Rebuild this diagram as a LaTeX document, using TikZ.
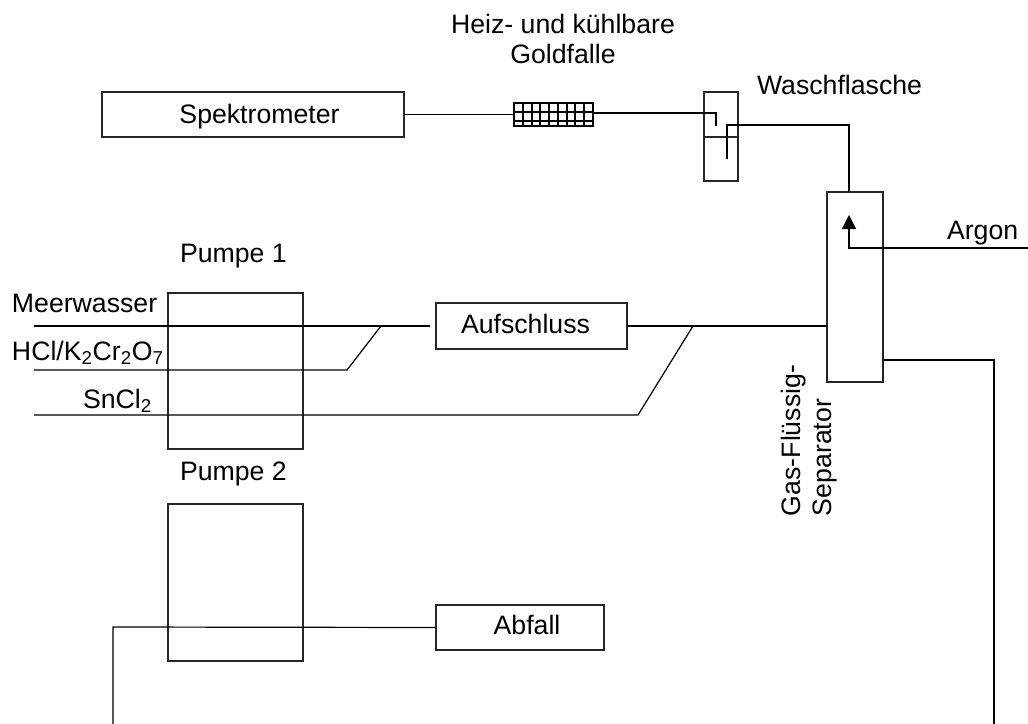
\documentclass[tikz,border=0pt]{standalone}
\usepackage{fontspec}
\setmainfont{Liberation Sans}
\usetikzlibrary{arrows.meta}
\tikzstyle{every node}=[font={\fontsize{20}{23}\selectfont}, inner sep=0pt, outer sep=0pt]
\tikzstyle{apparat}=[draw=black!85, line width=1pt]
\tikzstyle{leitung}=[draw=black, line width=0.9pt]
\tikzstyle{gitter}=[draw=black, line width=1.4pt]
\tikzstyle{beschriftung}=[anchor=base west]

\begin{document}
\begin{tikzpicture}[x=0.75pt, y=-0.75pt]
    \useasboundingbox (0,0) rectangle (1028,724);
    % geraete
    \node [apparat, minimum width=226.5pt, minimum height=33.75pt, text height=14pt, text depth=0pt] (spektrometer) at (253,114.5) {\hspace{9.75pt}Spektrometer};
    \node [gitter, minimum width=59.25pt, minimum height=17.25pt] (falle) at (553.5,114.5) {};
    \node [apparat, minimum width=25.5pt, minimum height=66.75pt] (flasche) at (721,136.5) {};
    \node [apparat, minimum width=42pt, minimum height=142.5pt] (separator) at (855,287) {};
    \node [apparat, minimum width=101.25pt, minimum height=117pt] (pumpeA) at (235.5,371) {};
    \node [apparat, minimum width=101.25pt, minimum height=117.75pt] (pumpeB) at (235.5,582.5) {};
    \node [apparat, minimum width=143.25pt, minimum height=34.5pt, text height=14.5pt, text depth=4pt] (aufschluss) at (531.5,326) {Aufschluss\kern9pt};
    \node [apparat, minimum width=126pt, minimum height=33.75pt, text height=14.5pt, text depth=4pt] (abfall) at (520,627.5) {\hspace{10.5pt}Abfall};
    % texte
    \node [anchor=south, align=center] (goldfalle) at (563,64) {Heiz- und k\"uhlbare\\Goldfalle};
    \node [beschriftung] (waschflasche) at (757,94) {Waschflasche};
    \node [beschriftung] (argon) at (947,239) {Argon};
    \node [beschriftung] (pumpe1) at (180,262) {Pumpe 1};
    \node [beschriftung] (pumpe2) at (180,480) {Pumpe 2};
    \node [beschriftung] (meerwasser) at (12,312) {Meerwasser};
    \node [beschriftung] (saeure) at (12,360) {HCl/K\textsubscript{2}Cr\textsubscript{2}O\textsubscript{7}};
    \node [beschriftung] (zinn) at (83,408) {SnCl\textsubscript{2}};
    \node [rotate=90, anchor=south west, align=left] (gastext) at (836.6,516) {Gas-Fl\"ussig-\\Separator};
    % freie enden
    \coordinate (mwein) at (34,326);
    \coordinate (mwknick) at (381,326);
    \coordinate (mwende) at (430,326);
    \coordinate (saeurein) at (34,370);
    \coordinate (saeureknick) at (347,370);
    \coordinate (zinnin) at (34,415);
    \coordinate (zinnknick) at (638,415);
    \coordinate (zinnend) at (693,326);
    \coordinate (argonin) at (1028,248);
    \coordinate (argonknick) at (849,248);
    \coordinate (argonend) at (849,215);
    \coordinate (abflussknick) at (994,360);
    \coordinate (abflussend) at (994,724);
    \coordinate (abfallend) at (113,724);
    \coordinate (abfallknick) at (113,627);
    \coordinate (rohrein) at (716,113);
    \coordinate (rohreinend) at (716,126);
    \coordinate (rohraus) at (727,159);
    \coordinate (rohrausknick) at (727,125);
    \coordinate (rohrausend) at (849,125);
    \coordinate (wasserL) at (704,137);
    \coordinate (wasserR) at (738,137);
    \coordinate (separatorR) at (883,360);
    \coordinate (falleR) at (593,113);
    % gitter der falle
    \foreach \x in {522.8,531.6,540.3,549.1,557.9,566.7,575.4,584.2} {
        \draw [gitter] (\x,103) -- (\x,126);
    }
    \foreach \y in {112.3,120.7} {
        \draw [gitter] (514,\y) -- (593,\y);
    }
    % leitungen
    \draw [leitung] (spektrometer.east) -- (falle.west);
    \draw [leitung] (falleR) -- (rohrein) -- (rohreinend);
    \draw [apparat] (wasserL) -- (wasserR);
    \draw [leitung] (rohraus) -- (rohrausknick) -- (rohrausend) -- (rohrausend |- separator.north);
    \draw [leitung, -{Triangle[length=10.5pt, width=10.5pt]}] (argonin) -- (argonknick) -- (argonend);
    \draw [leitung] (mwein) -- (mwende);
    \draw [leitung] (saeurein) -- (saeureknick) -- (mwknick);
    \draw [leitung] (zinnin) -- (zinnknick) -- (zinnend);
    \draw [leitung] (aufschluss.east) -- (separator.west |- aufschluss.east);
    \draw [leitung] (separatorR) -- (abflussknick) -- (abflussend);
    \draw [leitung] (abfallend) -- (abfallknick) -- (abfall.west);
\end{tikzpicture}
\end{document}
